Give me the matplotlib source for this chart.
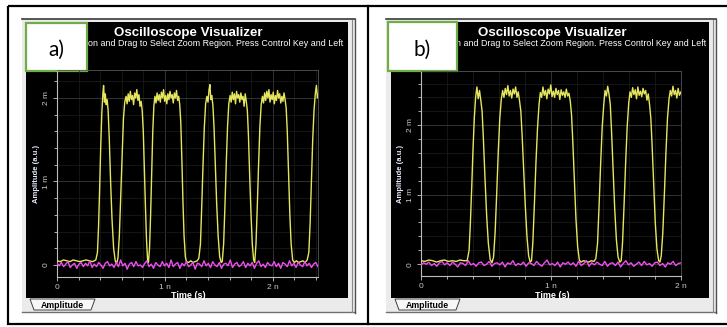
#!/usr/bin/env python3

import numpy as np
import matplotlib

matplotlib.use("Agg")
from matplotlib import pyplot as plt
from matplotlib.patches import Rectangle, Polygon
from matplotlib.ticker import MultipleLocator, FixedLocator, FixedFormatter

matplotlib.rcParams["font.family"] = ["Liberation Sans", "DejaVu Sans"]

# ---- data (time in ns, amplitude in "m" units) ----
t_a = [0.00, 0.03, 0.06, 0.09, 0.12, 0.15, 0.18, 0.21, 0.24, 0.27, 0.30, 0.33, 0.36,
       0.375, 0.385, 0.395, 0.405, 0.415, 0.425, 0.432, 0.44, 0.448, 0.456, 0.465, 0.474,
       0.485, 0.497, 0.51, 0.525, 0.54, 0.553, 0.565,
       0.578, 0.59, 0.603, 0.616, 0.628, 0.64, 0.65, 0.66, 0.67, 0.68, 0.69, 0.70, 0.71,
       0.72, 0.73, 0.74, 0.75, 0.76, 0.77, 0.78, 0.79,
       0.80, 0.81, 0.82, 0.83, 0.84, 0.848,
       0.858, 0.868, 0.878, 0.888, 0.898, 0.908, 0.918, 0.928, 0.938, 0.948, 0.958, 0.968,
       0.978, 0.988, 0.998, 1.008, 1.018, 1.028, 1.038, 1.048, 1.058, 1.068, 1.078, 1.088,
       1.098, 1.108, 1.118, 1.128, 1.138,
       1.148, 1.158, 1.168, 1.178, 1.19, 1.20, 1.22, 1.24, 1.26, 1.28, 1.30, 1.315,
       1.33, 1.342, 1.354, 1.366, 1.378, 1.39, 1.40, 1.41, 1.418, 1.426, 1.436, 1.446,
       1.456, 1.468, 1.48, 1.494, 1.508, 1.522, 1.532,
       1.545, 1.557, 1.569, 1.581, 1.593, 1.605, 1.615, 1.625, 1.635, 1.645, 1.655, 1.665,
       1.675, 1.685, 1.695, 1.705, 1.715, 1.725, 1.735, 1.745, 1.755, 1.765,
       1.775, 1.787, 1.799, 1.811, 1.823, 1.833,
       1.845, 1.857, 1.869, 1.881, 1.893, 1.905, 1.915, 1.925, 1.935, 1.945, 1.955, 1.965,
       1.975, 1.985, 1.995, 2.005, 2.015, 2.025, 2.035, 2.045, 2.055, 2.065, 2.075, 2.085,
       2.095, 2.105, 2.115, 2.125,
       2.135, 2.147, 2.159, 2.171, 2.185, 2.20, 2.22, 2.24, 2.26, 2.28, 2.30, 2.32,
       2.335, 2.347, 2.359, 2.371, 2.383, 2.395, 2.405, 2.415, 2.42]
y_a = [0.05, 0.04, 0.06, 0.05, 0.04, 0.06, 0.05, 0.04, 0.05, 0.06, 0.05, 0.04, 0.06,
       0.15, 0.45, 0.9, 1.4, 1.8, 2.05, 2.15, 1.95, 2.05, 1.92, 1.98, 1.85,
       1.5, 1.0, 0.55, 0.2, 0.05, 0.02, 0.08,
       0.35, 0.8, 1.3, 1.75, 1.95, 2.02, 1.93, 2.05, 1.96, 2.08, 1.98, 2.03, 1.92,
       2.06, 2.0, 2.1, 1.97, 2.04, 1.9, 1.96, 1.85,
       1.6, 1.15, 0.7, 0.3, 0.06, 0.03,
       0.2, 0.6, 1.1, 1.6, 1.9, 2.02, 1.94, 2.06, 1.97, 2.04, 1.95, 2.07,
       2.0, 2.1, 1.96, 2.03, 1.93, 2.05, 1.98, 2.08, 2.0, 2.04, 1.94, 2.06,
       2.0, 2.09, 1.97, 2.02, 1.92,
       1.7, 1.25, 0.75, 0.35, 0.1, 0.04, 0.03, 0.05, 0.03, 0.04, 0.05, 0.08,
       0.25, 0.7, 1.2, 1.65, 1.93, 2.02, 1.95, 2.1, 2.16, 1.98, 2.03, 1.9,
       1.65, 1.2, 0.75, 0.35, 0.1, 0.03, 0.04,
       0.25, 0.7, 1.2, 1.65, 1.93, 2.03, 1.95, 2.07, 1.98, 2.05, 1.93, 2.08,
       2.0, 2.04, 1.95, 2.06, 1.98, 2.02, 1.9, 2.05, 1.96, 1.85,
       1.55, 1.05, 0.6, 0.25, 0.06, 0.03,
       0.25, 0.7, 1.2, 1.65, 1.92, 2.02, 1.94, 2.06, 1.97, 2.08, 2.0, 2.1,
       1.95, 2.04, 1.98, 2.07, 1.93, 2.03, 1.97, 2.09, 2.0, 2.05, 1.94, 2.02,
       1.96, 2.06, 1.98, 1.88,
       1.6, 1.1, 0.6, 0.25, 0.06, 0.03, 0.05, 0.03, 0.04, 0.05, 0.03, 0.06,
       0.15, 0.5, 1.0, 1.5, 1.85, 2.05, 2.15, 2.0, 2.05]

t_b = [0.00, 0.03, 0.06, 0.09, 0.12, 0.15, 0.18, 0.21, 0.24, 0.27, 0.30, 0.33, 0.355,
       0.37, 0.38, 0.39, 0.40, 0.41, 0.42, 0.43, 0.44, 0.45, 0.46, 0.47,
       0.48, 0.492, 0.505, 0.518, 0.532, 0.546, 0.558,
       0.57, 0.582, 0.594, 0.606, 0.618, 0.628, 0.638, 0.648, 0.658, 0.668, 0.678, 0.688,
       0.698, 0.708, 0.718, 0.728, 0.738, 0.748, 0.758, 0.768,
       0.778, 0.79, 0.802, 0.815, 0.828, 0.84, 0.85,
       0.86, 0.872, 0.884, 0.896, 0.908, 0.918, 0.928, 0.938, 0.948, 0.958, 0.968, 0.978,
       0.988, 0.998, 1.008, 1.018, 1.028, 1.038, 1.048, 1.058, 1.068, 1.078, 1.088, 1.098,
       1.108, 1.118, 1.128, 1.138, 1.148, 1.158,
       1.168, 1.18, 1.192, 1.205, 1.218, 1.23, 1.25, 1.27, 1.29, 1.31, 1.33, 1.345,
       1.358, 1.37, 1.382, 1.394, 1.406, 1.416, 1.426, 1.436, 1.446, 1.456,
       1.466, 1.478, 1.49, 1.503, 1.516, 1.53, 1.54,
       1.55, 1.562, 1.574, 1.586, 1.598, 1.608, 1.618, 1.628, 1.638, 1.648, 1.658, 1.668,
       1.678, 1.688, 1.698, 1.708, 1.718, 1.728, 1.738, 1.748, 1.758, 1.768,
       1.778, 1.79, 1.802, 1.815, 1.828, 1.838, 1.848,
       1.86, 1.872, 1.884, 1.896, 1.908, 1.918, 1.928, 1.938, 1.948, 1.958, 1.968, 1.978,
       1.988, 2.0]
y_b = [0.05, 0.04, 0.06, 0.05, 0.03, 0.05, 0.06, 0.04, 0.05, 0.04, 0.06, 0.05, 0.05,
       0.2, 0.6, 1.1, 1.65, 2.1, 2.4, 2.55, 2.38, 2.5, 2.36, 2.2,
       1.8, 1.25, 0.7, 0.3, 0.07, 0.02, 0.1,
       0.45, 1.0, 1.6, 2.1, 2.38, 2.5, 2.4, 2.53, 2.44, 2.57, 2.42, 2.5,
       2.39, 2.52, 2.45, 2.55, 2.4, 2.48, 2.35, 2.2,
       1.85, 1.35, 0.85, 0.4, 0.12, 0.03, 0.05,
       0.3, 0.85, 1.45, 1.95, 2.3, 2.47, 2.4, 2.55, 2.43, 2.5, 2.38, 2.52,
       2.45, 2.58, 2.41, 2.49, 2.4, 2.53, 2.44, 2.5, 2.37, 2.51, 2.43, 2.48,
       2.4, 2.52, 2.42, 2.46, 2.35, 2.15,
       1.75, 1.2, 0.65, 0.25, 0.06, 0.03, 0.05, 0.04, 0.03, 0.05, 0.04, 0.08,
       0.3, 0.85, 1.45, 1.98, 2.3, 2.5, 2.42, 2.56, 2.45, 2.3,
       1.9, 1.35, 0.8, 0.35, 0.1, 0.03, 0.05,
       0.3, 0.85, 1.45, 1.98, 2.32, 2.48, 2.4, 2.54, 2.44, 2.51, 2.38, 2.55,
       2.43, 2.49, 2.41, 2.53, 2.45, 2.5, 2.36, 2.45, 2.3, 2.1,
       1.7, 1.15, 0.6, 0.22, 0.05, 0.03, 0.12,
       0.45, 1.0, 1.6, 2.1, 2.38, 2.5, 2.42, 2.56, 2.44, 2.5, 2.39, 2.53,
       2.43, 2.48]

# reference (magenta) trace, evenly sampled over each window
mag_a = [0.02, -0.01, 0.03, -0.02, 0.01, 0.04, -0.03, 0.00, 0.02, -0.04,
         0.01, 0.03, -0.02, 0.02, -0.01, 0.05, -0.03, 0.01, -0.02, 0.03,
         0.00, -0.04, 0.02, 0.04, -0.01, 0.01, -0.03, 0.03, -0.02, 0.06,
         -0.01, 0.02, -0.05, 0.01, 0.03, -0.02, 0.04, -0.01, 0.00, -0.03,
         0.02, 0.05, -0.02, 0.01, -0.04, 0.03, 0.00, -0.02, 0.04, -0.01,
         0.02, -0.03, 0.06, -0.02, 0.01, 0.03, -0.04, 0.02, -0.01, 0.04,
         -0.02, 0.00, 0.03, -0.05, 0.02, 0.01, -0.02, 0.05, -0.01, 0.02,
         -0.03, 0.04, 0.00, -0.02, 0.03, -0.04, 0.01, 0.02, -0.01, 0.06,
         -0.03, 0.01, 0.03, -0.02, 0.00, 0.04, -0.03, 0.02, -0.01, 0.03,
         -0.04, 0.02, 0.05, -0.02, 0.01, -0.03, 0.03, 0.00, -0.01, 0.04,
         -0.02, 0.02, -0.04, 0.03, 0.01, -0.02, 0.05, -0.01, 0.02, -0.03,
         0.03, 0.00, -0.02, 0.04, -0.01, 0.02, -0.03, 0.01, 0.03, -0.02]
mag_b = [-0.01, 0.02, 0.00, 0.03, -0.02, 0.01, -0.03, 0.02, 0.04, -0.01,
         0.02, -0.02, 0.03, 0.00, -0.04, 0.02, 0.01, -0.02, 0.05, -0.01,
         0.01, -0.03, 0.02, 0.03, -0.02, 0.00, 0.04, -0.03, 0.01, 0.02,
         -0.01, 0.03, -0.04, 0.02, 0.00, 0.05, -0.02, 0.01, -0.01, 0.03,
         -0.03, 0.02, 0.01, -0.02, 0.04, 0.00, -0.03, 0.02, 0.06, -0.01,
         0.01, -0.02, 0.03, -0.04, 0.02, 0.00, 0.03, -0.01, 0.02, -0.03,
         0.04, -0.02, 0.01, 0.05, -0.03, 0.02, -0.01, 0.03, 0.00, -0.02,
         0.04, -0.03, 0.01, 0.02, -0.02, 0.03, -0.04, 0.01, 0.05, -0.01,
         0.02, -0.03, 0.00, 0.03, -0.02, 0.04, -0.01, 0.01, -0.03, 0.02,
         0.03, -0.02, 0.01, -0.04, 0.02, 0.00, 0.04, -0.02, 0.01, 0.02]

x_ticks = [0, 1, 2]
x_tick_labels = ["0", "1 n", "2 n"]
y_ticks = [0, 1, 2]
y_tick_labels = ["0", "1 m", "2 m"]

W, H = 727, 327
YELLOW = "#e6e65e"
MAGENTA = "#f04ef0"

fig = plt.figure(figsize=(W / 100, H / 100), dpi=100)
fig.patch.set_facecolor("white")

# background layer in pixel coordinates
bg = fig.add_axes([0, 0, 1, 1])
bg.set_xlim(0, W)
bg.set_ylim(H, 0)
bg.axis("off")


def pix_axes(x0, y0, x1, y1):
    return fig.add_axes([x0 / W, 1 - y1 / H, (x1 - x0) / W, (y1 - y0) / H])


# outer frame + divider
bg.add_patch(Rectangle((8, 6), 740, 318, fill=False, ec="black", lw=1.6))
bg.plot([368, 368], [6, 324], color="black", lw=1.6)


def window(x0, x1, bx0, bx1, label, lbox, title_x, subtitle, sub_x):
    # grey window
    bg.add_patch(Rectangle((x0, 19), x1 - x0, 293, fc="#ebebeb", ec="none"))
    bg.plot([x0, x1], [19, 19], color="#3a3a3a", lw=1.2)
    bg.plot([x0, x1], [312, 312], color="#707070", lw=1.0)
    bg.plot([x1 - 3, x1 - 3], [20, 312], color="#8a8a8a", lw=0.8)
    bg.plot([x1, x1], [19, 313], color="#505050", lw=1.0)
    # black plot area
    bg.add_patch(Rectangle((bx0, 22), bx1 - bx0, 276, fc="black", ec="none"))
    # tab
    tx = bx0 + 4
    bg.add_patch(Polygon([(tx, 299), (tx + 4, 310), (tx + 61, 310), (tx + 65, 299)],
                         closed=True, fc="#f7f7f7", ec="#404040", lw=0.7))
    bg.text(tx + 32, 305, "Amplitude", fontsize=6.3, fontweight="bold",
            color="black", ha="center", va="center")
    # titles
    bg.text(title_x, 33, "Oscilloscope Visualizer", fontsize=9.6, fontweight="bold",
            color="white", ha="center", va="center")
    bg.text(sub_x, 44, subtitle, fontsize=6.4, color="white", ha="left", va="center")
    # label box
    lx0, ly0, lx1, ly1 = lbox
    bg.add_patch(Rectangle((lx0, ly0), lx1 - lx0, ly1 - ly0, fc="white",
                           ec="#70ad47", lw=1.6, zorder=5))
    bg.text((lx0 + lx1) / 2, (ly0 + ly1) / 2 + 3, label, fontsize=15,
            family=["Lato", "DejaVu Sans"], color="black", ha="center",
            va="center", zorder=6)


window(22, 355, 26, 348, "a)", (26, 23, 87, 71), 188,
       "on and Drag to Select Zoom Region. Press Control Key and Left", 88)
window(386, 716, 391, 709, "b)", (388, 22, 457, 71), 552,
       "n and Drag to Select Zoom Region. Press Control Key and Left", 456)


def scope(box, t, y, mag, xmax, ylim, ylab_x, time_x):
    ax = pix_axes(*box)
    ax.set_facecolor("none")
    ax.plot(t, y, color=YELLOW, lw=1.0, zorder=3)
    ax.plot(np.linspace(0, xmax, len(mag)), mag, color=MAGENTA, lw=1.0, zorder=4)
    ax.set_xlim(0, xmax)
    ax.set_ylim(*ylim)
    ax.xaxis.set_major_locator(FixedLocator(x_ticks))
    ax.xaxis.set_major_formatter(FixedFormatter(x_tick_labels))
    ax.yaxis.set_major_locator(FixedLocator(y_ticks))
    ax.yaxis.set_major_formatter(FixedFormatter(y_tick_labels))
    ax.xaxis.set_minor_locator(MultipleLocator(0.2))
    ax.yaxis.set_minor_locator(MultipleLocator(0.2))
    ax.grid(True, which="major", color="#3a3a3a", lw=0.6)
    ax.grid(True, which="minor", color="#1e1e1e", lw=0.5)
    ax.set_axisbelow(True)
    ax.tick_params(which="both", colors="#c8c8c8", labelsize=6, width=0.6, pad=2)
    ax.tick_params(which="major", length=3)
    ax.tick_params(which="minor", length=2)
    for lab in ax.get_yticklabels():
        lab.set_rotation(90)
        lab.set_va("center")
    for s in ("left", "bottom"):
        ax.spines[s].set_color("#bdbdbd")
        ax.spines[s].set_linewidth(0.8)
    for s in ("top", "right"):
        ax.spines[s].set_color("#555555")
        ax.spines[s].set_linewidth(0.6)
    mid = (box[1] + box[3]) / 2
    bg.text(ylab_x, mid, "Amplitude (a.u.)", rotation=90, fontsize=5.5,
            fontweight="bold", color="#e8ecff", ha="center", va="center")
    bg.text(time_x, 295, "Time (s)", fontsize=6.5, fontweight="bold",
            color="white", ha="center", va="center")
    return ax


scope((57, 70, 318, 277), t_a, y_a, mag_a, 2.42, (-0.144, 2.335), 37, 188)
scope((421, 71, 681, 276), t_b, y_b, mag_b, 2.0, (-0.17, 2.78), 401, 552)

fig.savefig("out.png", dpi=100, facecolor="white")
